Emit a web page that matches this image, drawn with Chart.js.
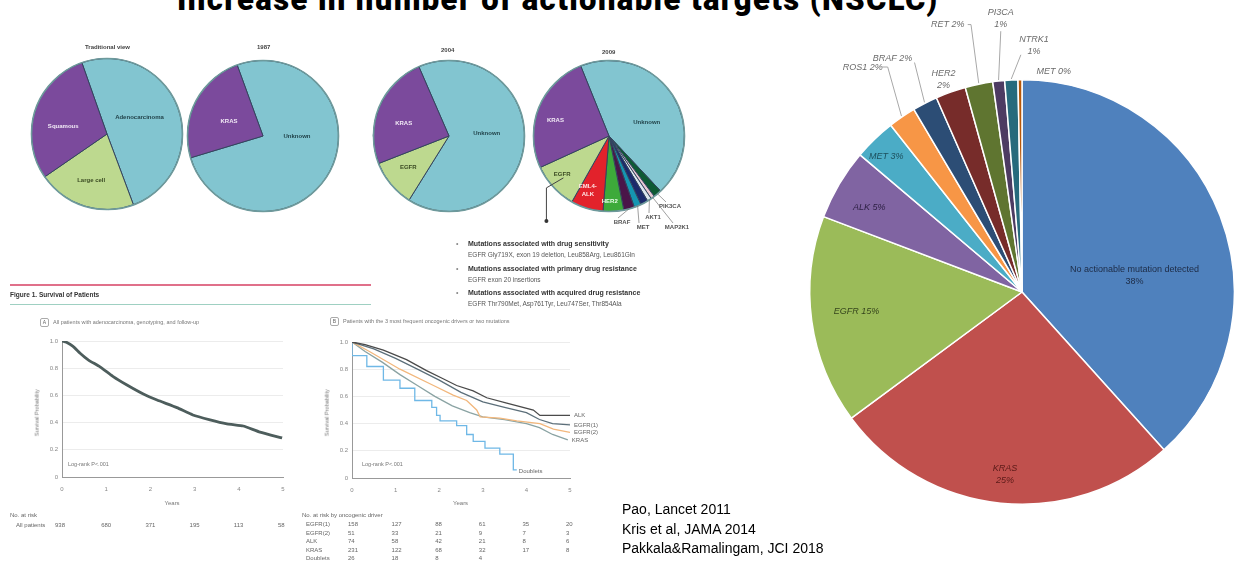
<!DOCTYPE html>
<html><head><meta charset="utf-8">
<script src="https://cdn.jsdelivr.net/npm/chart.js@4.4.1/dist/chart.umd.min.js"></script>
<style>
html,body{margin:0;padding:0;background:#fff;}
body{width:1238px;height:561px;position:relative;overflow:hidden;font-family:"Liberation Sans",Arial,sans-serif;}
.t{position:absolute;white-space:nowrap;line-height:1;}
canvas{position:absolute;}
#title{position:absolute;left:177px;top:-16.5px;font-family:Roboto,"Liberation Sans",sans-serif;font-weight:900;font-size:31px;line-height:31px;color:#000;white-space:nowrap;letter-spacing:1.4px;}
.refs{position:absolute;left:622px;top:500px;font-size:14px;line-height:19.5px;color:#000;}
.small{font-size:6px;color:#666;}
.bold{font-weight:bold;}
.box{position:absolute;width:7px;height:7px;border:1px solid #aaa;border-radius:2px;font-size:5px;line-height:7px;text-align:center;color:#666;}
#left{position:absolute;left:0;top:0;width:760px;height:561px;filter:blur(0.35px);}
</style></head><body>
<div id="title">Increase in number of actionable targets (NSCLC)</div>
<div id="left"></div>
<canvas id="mainPie" width="448" height="561" style="left:790px;top:0;width:448px;height:561px"></canvas>
<div class="refs">Pao, Lancet 2011<br>Kris et al, JAMA 2014<br>Pakkala&amp;Ramalingam, JCI 2018</div>
<script>
// ---------------- DATA ----------------
// Main pie (Pakkala & Ramalingam)
const mainCategories = ['No actionable mutation detected','KRAS','EGFR','ALK','MET','ROS1','BRAF','HER2','RET','PI3CA','NTRK1','MET'];
const mainShares = [38.3, 26.5, 15.9, 5.4, 3.2, 2.1, 1.9, 2.3, 2.1, 0.9, 1.0, 0.3];
const mainPercentLabels = ['38%','25%','15%','5%','3%','2%','2%','2%','2%','1%','1%','0%'];

// Small pies (Pao, Lancet 2011)
const tradCategories = ['Adenocarcinoma','Large cell','Squamous'];
const tradShares = [49.7, 21.1, 29.2];
const y1987Categories = ['Unknown','KRAS'];
const y1987Shares = [75.9, 24.1];
const y2004Categories = ['Unknown','EGFR','KRAS'];
const y2004Shares = [65.4, 10.2, 24.4];
const y2009Categories = ['Unknown','PIK3CA','MAP2K1','AKT1','Other','MET','BRAF','HER2','EML4-ALK','EGFR','KRAS'];
const y2009Shares = [44.1, 1.75, 0.8, 0.9, 1.6, 1.5, 2.3, 4.4, 6.9, 10.0, 25.7];

// Kaplan-Meier, panel A
const kmAllYears = [0, 0.1, 0.25, 0.41, 0.6, 0.86, 1.15, 1.47, 1.84, 2.15, 2.6, 2.96, 3.35, 3.73, 3.87, 4.1, 4.48, 4.98];
const kmAllSurv  = [1.0, 0.99, 0.96, 0.91, 0.86, 0.81, 0.74, 0.676, 0.61, 0.566, 0.51, 0.456, 0.42, 0.39, 0.385, 0.375, 0.33, 0.287];

// Kaplan-Meier, panel B
const kmDrivers = ['ALK','EGFR(1)','EGFR(2)','KRAS','Doublets'];
const kmAlkYears = [0,0.3,0.72,1.25,1.71,2.09,2.4,2.78,3.09,3.55,4.16,4.31,5.0];
const kmAlkSurv  = [1,0.98,0.94,0.87,0.79,0.73,0.68,0.64,0.59,0.55,0.50,0.46,0.46];
const kmEgfr1Years = [0,0.5,1.0,1.5,2.0,2.5,3.0,3.5,4.0,4.3,4.6,5.0];
const kmEgfr1Surv  = [1,0.95,0.88,0.80,0.72,0.63,0.56,0.52,0.48,0.43,0.40,0.39];
const kmEgfr2Years = [0,0.4,1.1,1.87,2.32,2.63,2.86,2.94,3.39,3.78,4.31,4.62,5.0];
const kmEgfr2Surv  = [1,0.93,0.80,0.68,0.61,0.57,0.50,0.45,0.44,0.42,0.40,0.36,0.335];
const kmKrasYears = [0,0.3,0.7,1.1,1.5,1.9,2.3,2.7,3.0,3.5,4.0,4.3,4.6,4.95];
const kmKrasSurv  = [1,0.93,0.85,0.76,0.68,0.60,0.53,0.48,0.45,0.43,0.40,0.37,0.32,0.28];
const kmDoubleYears = [0,0.34,0.72,1.1,1.44,1.83,1.94,2.02,2.4,2.63,2.78,3.05,3.39,3.7,3.78];
const kmDoubleSurv  = [1,0.90,0.82,0.72,0.66,0.57,0.52,0.46,0.42,0.385,0.32,0.27,0.22,0.175,0.06];

const riskYears = [0,1,2,3,4,5];
const riskAll = [938, 680, 371, 195, 113, 58];
const riskEgfr1 = [158, 127, 88, 61, 35, 20];
const riskEgfr2 = [51, 33, 21, 9, 7, 3];
const riskAlk = [74, 58, 42, 21, 8, 6];
const riskKras = [231, 122, 68, 32, 17, 8];
const riskDouble = [26, 18, 8, 4, '', ''];
const survTicks = [0, 0.2, 0.4, 0.6, 0.8, 1.0];

// ---------------- STYLES ----------------
const mainColors = ['#4F81BD','#C0504D','#9BBB59','#8064A2','#4BACC6','#F79646','#2C4D75','#772C2A','#5F7530','#4D3B62','#276A7C','#B65708'];
const mainLabelStyle = [
  {dx:0.53, dy:-0.08, two:true, color:'#1d2b45', italic:false},
  {dx:-0.08, dy:0.86, two:true, color:'#5a1a18', italic:true},
  {dx:-0.78, dy:0.094, two:false, color:'#35441c', italic:true},
  {dx:-0.72, dy:-0.40, two:false, color:'#2e2145', italic:true},
  {dx:-0.64, dy:-0.64, two:false, color:'#1d4f5c', italic:true},
  {dx:-0.75, dy:-1.06, two:false, color:'#6a6a6a', italic:true, lead:[19,0]},
  {dx:-0.61, dy:-1.10, two:false, color:'#6a6a6a', italic:true, lead:[22,4]},
  {dx:-0.37, dy:-1.0, two:true, color:'#6a6a6a', italic:true},
  {dx:-0.35, dy:-1.26, two:false, color:'#6a6a6a', italic:true, lead:[20,0]},
  {dx:-0.10, dy:-1.29, two:true, color:'#6a6a6a', italic:true, lead:[0,13]},
  {dx:0.056, dy:-1.16, two:true, color:'#6a6a6a', italic:true, lead:[-13,9]},
  {dx:0.15, dy:-1.04, two:false, color:'#6a6a6a', italic:true}
];
const pieBlue='#82C5D0', piePurple='#7B4A9C', pieGreen='#BDD98F';
const y2009Colors = [pieBlue,'#0E5A34','#E9C9D2','#DCE6EE','#1C2A6C','#1596B2','#4A1549','#3DAA3A','#E2222B',pieGreen,piePurple];

const leftEl = document.getElementById('left');
function addText(html, x, y, cls, extra){
  const d=document.createElement('div'); d.className='t '+(cls||''); d.innerHTML=html;
  d.style.left=x+'px'; d.style.top=y+'px'; if(extra) Object.assign(d.style, extra);
  leftEl.appendChild(d); return d;
}
function addCanvas(id,x,y,w,h){
  const c=document.createElement('canvas'); c.id=id; c.width=w; c.height=h;
  c.style.left=x+'px'; c.style.top=y+'px'; c.style.width=w+'px'; c.style.height=h+'px';
  leftEl.appendChild(c); return c;
}

// ---------------- MAIN PIE ----------------
const mainLabelPlugin = {
  id:'mainLabels',
  afterDatasetsDraw(chart){
    const ctx=chart.ctx, meta=chart.getDatasetMeta(0);
    meta.data.forEach((arc,i)=>{
      const s=mainLabelStyle[i], R=arc.outerRadius;
      const x=arc.x+s.dx*R, y=arc.y+s.dy*R;
      ctx.save();
      ctx.font=(s.italic?'italic ':'')+'9px "Liberation Sans", Arial';
      ctx.fillStyle=s.color; ctx.textAlign='center'; ctx.textBaseline='middle';
      if(s.two){ ctx.fillText(mainCategories[i],x,y-6); ctx.fillText(mainPercentLabels[i],x,y+6); }
      else ctx.fillText(mainCategories[i]+' '+mainPercentLabels[i],x,y);
      if(s.lead){
        const mid=(arc.startAngle+arc.endAngle)/2;
        const ex=arc.x+Math.cos(mid)*(R+1), ey=arc.y+Math.sin(mid)*(R+1);
        const sx=x+s.lead[0], sy=y+s.lead[1];
        ctx.strokeStyle='#a8a8a8'; ctx.lineWidth=1;
        ctx.beginPath(); ctx.moveTo(sx,sy);
        if(Math.abs(s.lead[1])<1){ const kx=sx+Math.min(6,Math.max(2,(ex-sx)*0.3)); ctx.lineTo(kx,sy); }
        ctx.lineTo(ex,ey); ctx.stroke();
      }
      ctx.restore();
    });
  }
};
new Chart(document.getElementById('mainPie'),{
  type:'pie',
  data:{labels:mainCategories,datasets:[{data:mainShares,backgroundColor:mainColors,borderColor:'#ffffff',borderWidth:1.5}]},
  options:{responsive:false,animation:false,layout:{padding:{left:19,right:3,top:79,bottom:56}},
    plugins:{legend:{display:false},tooltip:{enabled:false}}},
  plugins:[mainLabelPlugin]
});

// ---------------- SMALL PIES ----------------
function smallPie(id, x, y, w, h, pad, cats, vals, colors, rotation, labels, extraDraw){
  const c=addCanvas(id,x,y,w,h);
  const plug={id:'lbl'+id, afterDatasetsDraw(chart){
    const ctx=chart.ctx, meta=chart.getDatasetMeta(0);
    const arc0=meta.data[0], R=arc0.outerRadius, cx=arc0.x, cy=arc0.y;
    ctx.save();
    ctx.strokeStyle='#6e9a9c'; ctx.lineWidth=1.6; ctx.beginPath(); ctx.arc(cx,cy,R,0,Math.PI*2); ctx.stroke();
    ctx.textAlign='center'; ctx.textBaseline='middle';
    labels.forEach(l=>{
      ctx.font='bold 6px "Liberation Sans", Arial'; ctx.fillStyle=l.color;
      const lines=l.text.split('\n');
      lines.forEach((t,k)=>ctx.fillText(t,cx+l.dx*R,cy+l.dy*R+(k-(lines.length-1)/2)*8));
    });
    if(extraDraw) extraDraw(ctx, meta, cx, cy, R);
    ctx.restore();
  }};
  return new Chart(c,{type:'pie',
    data:{labels:cats,datasets:[{data:vals,backgroundColor:colors,borderColor:'#33445e',borderWidth:1}]},
    options:{responsive:false,animation:false,rotation:rotation,layout:{padding:pad},
      plugins:{legend:{display:false},tooltip:{enabled:false}}},
    plugins:[plug]});
}
smallPie('pTrad',27,54,160,160,4,tradCategories,tradShares,[pieBlue,pieGreen,piePurple],-19.4,[
  {text:'Squamous',dx:-0.58,dy:-0.1,color:'#f2eaf6'},
  {text:'Adenocarcinoma',dx:0.43,dy:-0.22,color:'#23454c'},
  {text:'Large cell',dx:-0.21,dy:0.62,color:'#3a4a22'}]);
smallPie('p1987',183,56,160,160,4,y1987Categories,y1987Shares,[pieBlue,piePurple],-20,[
  {text:'KRAS',dx:-0.45,dy:-0.2,color:'#f2eaf6'},
  {text:'Unknown',dx:0.45,dy:0.0,color:'#23454c'}]);
smallPie('p2004',369,56,160,160,4,y2004Categories,y2004Shares,[pieBlue,pieGreen,piePurple],-23.5,[
  {text:'KRAS',dx:-0.6,dy:-0.17,color:'#f2eaf6'},
  {text:'Unknown',dx:0.5,dy:-0.04,color:'#23454c'},
  {text:'EGFR',dx:-0.54,dy:0.41,color:'#3a4a22'}]);
smallPie('p2009',525,56,185,190,{left:8,right:25,top:4,bottom:34},y2009Categories,y2009Shares,y2009Colors,-22,[
  {text:'KRAS',dx:-0.71,dy:-0.21,color:'#f2eaf6'},
  {text:'Unknown',dx:0.5,dy:-0.18,color:'#23454c'},
  {text:'EGFR',dx:-0.62,dy:0.51,color:'#3a4a22'},
  {text:'EML4-\nALK',dx:-0.28,dy:0.72,color:'#ffe8e8'},
  {text:'HER2',dx:0.01,dy:0.86,color:'#eaffea'}],
  (ctx, meta, cx, cy, R)=>{
    const outs=[['BRAF',6,13,86],['MET',5,34,91],['AKT1',3,44,81],['MAP2K1',2,68,91],['PIK3CA',1,61,70]];
    ctx.font='bold 6px "Liberation Sans", Arial'; ctx.fillStyle='#555'; ctx.strokeStyle='#777'; ctx.lineWidth=0.7;
    outs.forEach(o=>{
      const arc=meta.data[o[1]], mid=(arc.startAngle+arc.endAngle)/2;
      const lx=cx+o[2], ly=cy+o[3];
      ctx.fillText(o[0],lx,ly);
      ctx.beginPath(); ctx.moveTo(lx-4,ly-4); ctx.lineTo(cx+Math.cos(mid)*R,cy+Math.sin(mid)*R); ctx.stroke();
    });
    const eg=meta.data[9], m=(eg.startAngle+eg.endAngle)/2;
    const sx=cx+Math.cos(m)*R*0.82, sy=cy+Math.sin(m)*R*0.82;
    ctx.strokeStyle='#444'; ctx.lineWidth=1; ctx.beginPath(); ctx.moveTo(sx,sy); ctx.lineTo(sx-17,sy+10); ctx.lineTo(sx-17,sy+43); ctx.stroke();
    ctx.fillStyle='#333'; ctx.beginPath(); ctx.arc(sx-17,sy+43,2,0,Math.PI*2); ctx.fill();
  });
addText('Traditional view',85,44,'small bold',{color:'#444'});
addText('1987',257,44,'small bold',{color:'#444'});
addText('2004',441,47,'small bold',{color:'#444'});
addText('2009',602,49,'small bold',{color:'#444'});

// bullet list
const bullets=[['Mutations associated with drug sensitivity','EGFR Gly719X, exon 19 deletion, Leu858Arg, Leu861Gln'],
  ['Mutations associated with primary drug resistance','EGFR exon 20 insertions'],
  ['Mutations associated with acquired drug resistance','EGFR Thr790Met, Asp761Tyr, Leu747Ser, Thr854Ala']];
bullets.forEach((b,i)=>{
  const y=240+i*24.5;
  addText('•',456,y,'',{fontSize:'7px',color:'#888'});
  addText(b[0],468,y,'bold',{fontSize:'7px',color:'#333'});
  addText(b[1],468,y+12,'',{fontSize:'6.5px',color:'#555'});
});

// Figure header
const redLine=document.createElement('div'); Object.assign(redLine.style,{position:'absolute',left:'10px',top:'284px',width:'361px',height:'2px',background:'#e0708a'}); leftEl.appendChild(redLine);
const tealLine=document.createElement('div'); Object.assign(tealLine.style,{position:'absolute',left:'10px',top:'304px',width:'361px',height:'1px',background:'#9fd0c2'}); leftEl.appendChild(tealLine);
addText('Figure 1. Survival of Patients',10,292,'bold',{fontSize:'6.5px',color:'#333'});

// ---------------- KM CHARTS ----------------
function kmOptions(showLabels){
  return {responsive:false,animation:false,
    layout:{padding:{top:8,right:showLabels?30:8,left:0,bottom:0}},
    plugins:{legend:{display:false},tooltip:{enabled:false}},
    elements:{point:{radius:0}},
    scales:{
      x:{type:'linear',min:0,max:5,afterFit:s=>{s.height=31;},
        ticks:{stepSize:1,font:{size:6},color:'#888',padding:6},
        grid:{display:false,drawTicks:true,tickLength:3},border:{color:'#999'}},
      y:{min:0,max:1,afterFit:s=>{s.width=48;},afterBuildTicks:s=>{s.ticks=survTicks.map(v=>({value:v}));},
        ticks:{font:{size:6},color:'#888',padding:4,callback:v=>v===0?'0':v.toFixed(1)},
        grid:{color:'#ececec',drawTicks:false},border:{color:'#999'}}
    }};
}
const cA=addCanvas('kmA',14,333,277,175);
const kmA=new Chart(cA,{type:'line',
  data:{datasets:[{data:kmAllYears.map((t,i)=>({x:t,y:kmAllSurv[i]})),borderColor:'#4d5d5c',borderWidth:2.8,fill:false,tension:0.15}]},
  options:kmOptions(false)});

const endLabelPlugin={id:'endLabels',afterDatasetsDraw(chart){
  const ctx=chart.ctx; ctx.save(); ctx.font='6px "Liberation Sans", Arial'; ctx.fillStyle='#666'; ctx.textBaseline='middle';
  chart.data.datasets.forEach((ds,i)=>{
    const meta=chart.getDatasetMeta(i), p=meta.data[meta.data.length-1];
    ctx.fillText(ds.label,p.x+(i===4?2:4),p.y+(i===4?2:0));
  });
  ctx.restore();}};
const bColors=['#4a4a4a','#5c6f7a','#f2b77c','#8aa3a3','#6fb8e6'];
const bYears=[kmAlkYears,kmEgfr1Years,kmEgfr2Years,kmKrasYears,kmDoubleYears];
const bSurv=[kmAlkSurv,kmEgfr1Surv,kmEgfr2Surv,kmKrasSurv,kmDoubleSurv];
const cB=addCanvas('kmB',304,334,296,175);
const kmB=new Chart(cB,{type:'line',
  data:{datasets:kmDrivers.map((d,k)=>({label:d,data:bYears[k].map((t,i)=>({x:t,y:bSurv[k][i]})),
    borderColor:bColors[k],borderWidth:1.3,fill:false,stepped:k===4?'after':false}))},
  options:kmOptions(true),plugins:[endLabelPlugin]});

function panelHead(letter,x,y,text){
  const b=document.createElement('div'); b.className='box'; b.textContent=letter; b.style.left=x+'px'; b.style.top=y+'px'; leftEl.appendChild(b);
  addText(text,x+13,y+2,'',{fontSize:'5.5px',color:'#777'});
}
panelHead('A',40,318,'All patients with adenocarcinoma, genotyping, and follow-up');
panelHead('B',330,317,'Patients with the 3 most frequent oncogenic drivers or two mutations');
addText('Log-rank P&lt;.001',68,462,'',{fontSize:'5.5px',color:'#777'});
addText('Log-rank P&lt;.001',362,462,'',{fontSize:'5.5px',color:'#777'});
[[40,410],[330,410]].forEach(p=>addText('Survival Probability',p[0]-26,p[1],'',{fontSize:'5.5px',color:'#777',transform:'rotate(-90deg)',transformOrigin:'center'}));

function xPix(chart,canvas,t){return parseFloat(canvas.style.left)+chart.scales.x.getPixelForValue(t);}
addText('Years',xPix(kmA,cA,2.5)-8,500,'',{fontSize:'6px',color:'#777'});
addText('Years',xPix(kmB,cB,2.5)-8,500,'',{fontSize:'6px',color:'#777'});
addText('No. at risk',10,512,'',{fontSize:'6px',color:'#666'});
addText('All patients',16,522,'',{fontSize:'6px',color:'#666'});
riskYears.forEach((t,i)=>addText(String(riskAll[i]),xPix(kmA,cA,t)-5+(i===0?-2:0),522,'',{fontSize:'6px',color:'#666'}));
addText('No. at risk by oncogenic driver',302,512,'',{fontSize:'6px',color:'#666'});
const riskRows=[['EGFR(1)',riskEgfr1],['EGFR(2)',riskEgfr2],['ALK',riskAlk],['KRAS',riskKras],['Doublets',riskDouble]];
riskRows.forEach((r,k)=>{
  const y=521+k*8.5;
  addText(r[0],306,y,'',{fontSize:'6px',color:'#666'});
  riskYears.forEach((t,i)=>addText(String(r[1][i]),xPix(kmB,cB,t)-4,y,'',{fontSize:'6px',color:'#666'}));
});
</script>
</body></html>
